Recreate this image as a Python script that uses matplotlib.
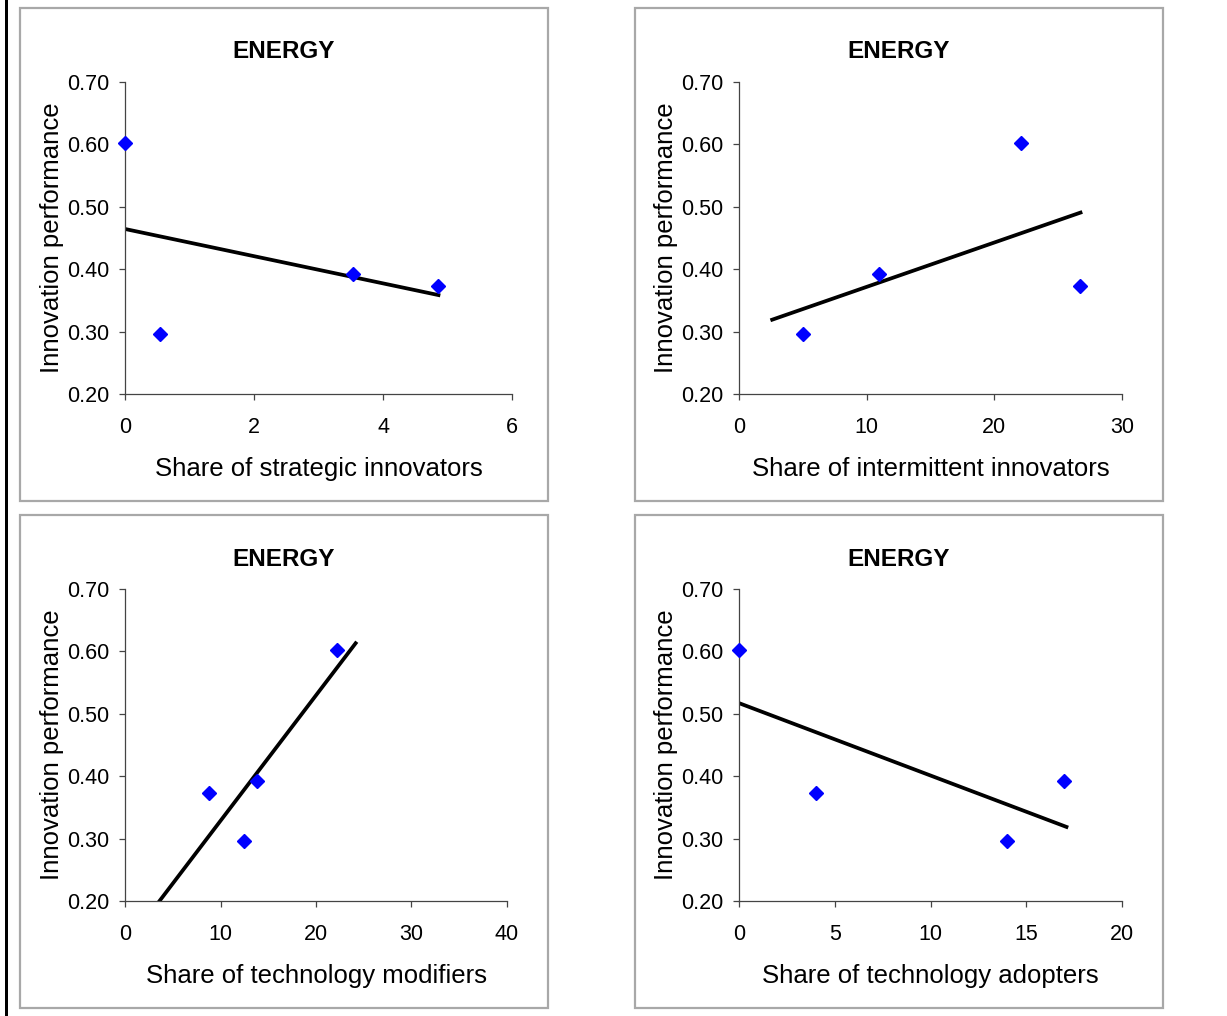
import numpy as np
import matplotlib.pyplot as plt
from matplotlib.patches import Rectangle

plt.rcParams['font.family'] = ['Liberation Sans', 'DejaVu Sans']

# innovation performance of the four countries (same order in every panel)
performance = [0.602, 0.296, 0.392, 0.373]

# share of each innovator type, one list per panel
strategic = [0.0, 0.55, 3.53, 4.86]
intermittent = [22.1, 5.0, 11.0, 26.7]
modifiers = [22.2, 12.5, 13.85, 8.8]
adopters = [0.0, 14.0, 16.95, 4.0]

xlabels = ["Share of strategic innovators", "Share of intermittent innovators",
           "Share of technology modifiers", "Share of technology adopters"]
xmax = [6, 30, 40, 20]
xstep = [2, 10, 10, 5]
# range covered by the drawn trend line
trend_from = [0.0, 2.6, 2.5, 0.0]
trend_to = [4.86, 26.75, 24.15, 17.1]

W, H = 1227, 1016
fig = plt.figure(figsize=(W / 100, H / 100), dpi=100)

# panel frames and axes boxes in pixels: (left, top, right, bottom)
frames = [(20, 8, 548, 501), (635, 8, 1163, 501),
          (20, 515, 548, 1008), (635, 515, 1163, 1008)]
boxes = [(125, 82, 512, 394), (739, 82, 1122, 394),
         (125, 589, 507, 901), (739, 589, 1122, 901)]

# black rule at the far left
fig.patches.append(Rectangle((5 / W, 0), 2.5 / W, 1, transform=fig.transFigure,
                             color='black', lw=0))

series = [strategic, intermittent, modifiers, adopters]
for i in range(4):
    fl, ft, fr, fb = frames[i]
    fig.patches.append(Rectangle((fl / W, 1 - fb / H), (fr - fl) / W, (fb - ft) / H,
                                 transform=fig.transFigure, fill=False,
                                 edgecolor='#a8a8a8', lw=1.6))
    l, t, r, b = boxes[i]
    ax = fig.add_axes([l / W, 1 - b / H, (r - l) / W, (b - t) / H])
    x = np.array(series[i])
    y = np.array(performance)

    slope, icpt = np.polyfit(x, y, 1)
    tx = np.array([trend_from[i], trend_to[i]])
    ax.plot(tx, slope * tx + icpt, color='black', lw=2.7, zorder=2)
    ax.plot(x, y, 'D', color='#0000ff', ms=7.6, mec='#0000ff', clip_on=False, zorder=3)

    ax.set_xlim(0, xmax[i])
    ax.set_ylim(0.2, 0.7)
    ax.set_xticks(np.arange(0, xmax[i] + 1, xstep[i]))
    ax.set_yticks(np.arange(0.2, 0.71, 0.1))
    ax.yaxis.set_major_formatter(plt.FormatStrFormatter('%.2f'))
    for s in ['top', 'right']:
        ax.spines[s].set_visible(False)
    for s in ['left', 'bottom']:
        ax.spines[s].set_color('#444444')
        ax.spines[s].set_linewidth(0.9)
    ax.tick_params(axis='x', length=4.3, width=0.9, color='#444444', pad=12.5, labelsize=15.5)
    ax.tick_params(axis='y', length=4.3, width=0.9, color='#444444', pad=7, labelsize=15.5)

    ax.text(0.5, -75 / (b - t), xlabels[i], transform=ax.transAxes,
            ha='center', va='center', fontsize=18.5)
    ax.text(-73 / (r - l), 0.5, "Innovation performance", transform=ax.transAxes,
            ha='center', va='center', rotation=90, fontsize=18.5)
    fig.text((fl + fr) / 2 / W, 1 - (ft + 44) / H, "ENERGY", ha='center', va='center',
             fontsize=17.5, fontweight='bold')

fig.savefig('out.png', dpi=100)
